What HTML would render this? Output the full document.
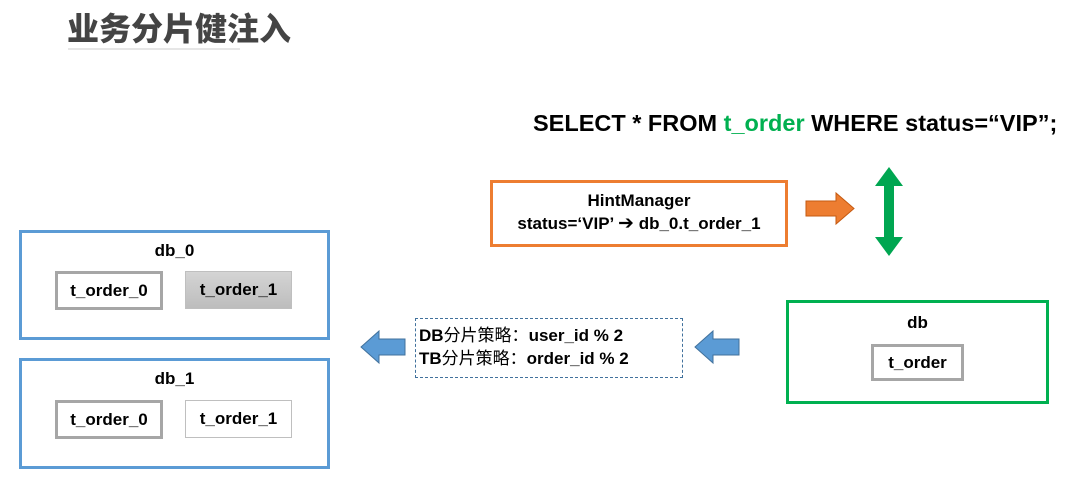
<!DOCTYPE html>
<html><head><meta charset="utf-8"><style>
body{margin:0;width:1080px;height:478px;background:#fff;position:relative;overflow:hidden;font-family:"Liberation Sans","Noto Sans CJK SC",sans-serif;font-weight:bold;color:#000}
div{position:absolute;box-sizing:border-box}
.c{text-align:center}
.blue{border:3px solid #5B9BD5}
.tb{border:3px solid #A6A6A6;background:#fff;font-size:17px;display:flex;align-items:center;justify-content:center}
</style></head><body>
<div style="left:67px;top:4px;font-size:32px;color:#444;font-family:'Noto Sans CJK SC',sans-serif;font-weight:900;white-space:nowrap">业务分片健注入</div>
<div style="left:68px;top:48px;width:172px;height:2px;background:#e6e6e6"></div>

<div style="left:533px;top:110px;font-size:23.5px;white-space:nowrap">SELECT * FROM <span style="color:#00B050">t_order</span> WHERE status=“VIP”;</div>

<div class="c" style="left:490px;top:180px;width:298px;height:67px;border:3px solid #ED7D31;font-size:17px;line-height:22px;padding-top:7px;white-space:nowrap">HintManager<br>status=‘VIP’ <span style="font-size:19px;font-family:'DejaVu Sans',sans-serif">➔</span> db_0.t_order_1</div>

<svg style="position:absolute;left:0;top:0" width="1080" height="478">
<polygon points="806,201 836,201 836,193 854,208.5 836,224 836,216 806,216" fill="#ED7D31" stroke="#C55A11" stroke-width="1"/>
<polygon points="889,167 903,186 894,186 894,237 903,237 889,256 875,237 884,237 884,186 875,186" fill="#00A651"/>
<polygon points="739,339 713,339 713,331 695,347 713,363 713,355 739,355" fill="#5B9BD5" stroke="#41719C" stroke-width="1"/>
<polygon points="405,339 379,339 379,331 361,347 379,363 379,355 405,355" fill="#5B9BD5" stroke="#41719C" stroke-width="1"/>
</svg>

<div class="c" style="left:786px;top:300px;width:263px;height:104px;border:3px solid #00B050;font-size:17px;padding-top:10px">db</div>
<div class="tb" style="left:871px;top:344px;width:93px;height:37px">t_order</div>

<div style="left:415px;top:318px;width:268px;height:60px;border:1px dashed #41719C;font-size:17px;line-height:23px;padding:5px 0 0 3px;white-space:nowrap">DB<span style="font-weight:normal">分片策略：</span>user_id % 2<br>TB<span style="font-weight:normal">分片策略：</span>order_id % 2</div>

<div class="blue c" style="left:19px;top:230px;width:311px;height:110px;font-size:17px;padding-top:8px">db_0</div>
<div class="tb" style="left:55px;top:271px;width:108px;height:39px">t_order_0</div>
<div class="tb" style="left:185px;top:271px;width:107px;height:38px;border:1px solid #bfbfbf;background:linear-gradient(#d4d4d4,#bdbdbd)">t_order_1</div>

<div class="blue c" style="left:19px;top:358px;width:311px;height:111px;font-size:17px;padding-top:8px">db_1</div>
<div class="tb" style="left:55px;top:400px;width:108px;height:39px">t_order_0</div>
<div class="tb" style="left:185px;top:400px;width:107px;height:38px;border:1px solid #bfbfbf">t_order_1</div>
</body></html>
